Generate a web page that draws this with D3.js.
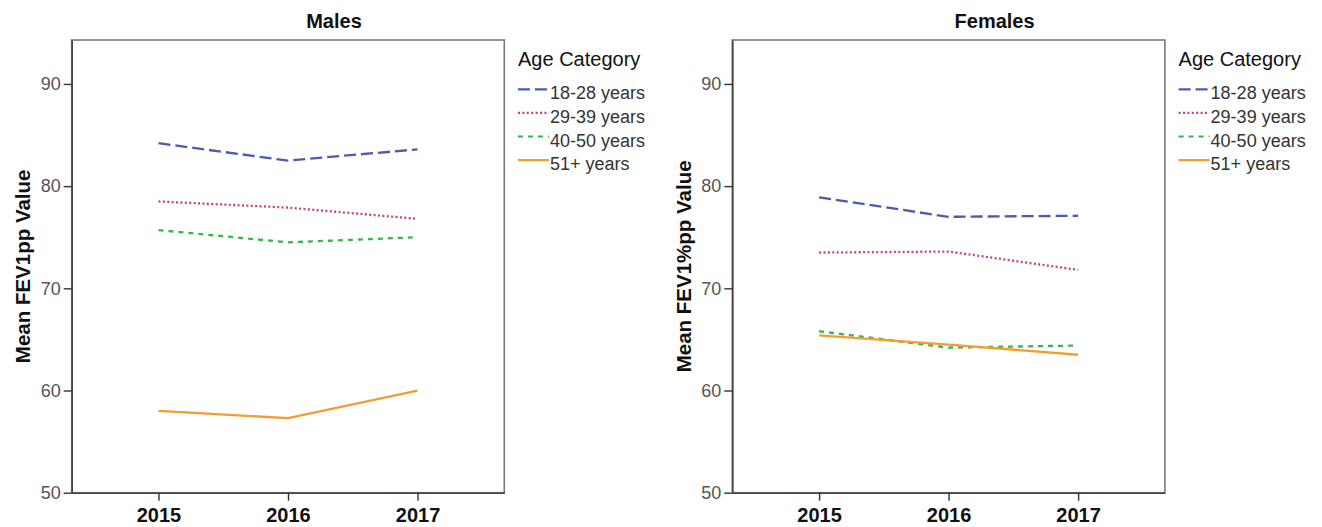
<!DOCTYPE html>
<html>
<head>
<meta charset="utf-8">
<script src="https://cdn.jsdelivr.net/npm/d3@7"></script>
<style>
  html, body { margin: 0; padding: 0; background: #fff; }
  svg { display: block; font-family: "Liberation Sans", Arial, sans-serif; }
</style>
</head>
<body>
<svg id="chart" width="1322" height="527"></svg>
<script>
/* FEV1 by age category, males vs females, 2015-2017. */

const years = ["2015", "2016", "2017"];
const ageGroups = ["18-28 years", "29-39 years", "40-50 years", "51+ years"];

// one row per age group, one value per year
const malesValues = [
  [84.2, 82.5, 83.6],
  [78.5, 77.9, 76.8],
  [75.7, 74.5, 75.0],
  [58.0, 57.3, 60.0],
];
const femalesValues = [
  [78.9, 77.0, 77.1],
  [73.5, 73.6, 71.8],
  [65.8, 64.2, 64.4],
  [65.4, 64.5, 63.5],
];

const yTicks = [50, 60, 70, 80, 90];
const yDomain = [50, 94.3];
const panelTitles = ["Males", "Females"];
const yTitles = ["Mean FEV1pp Value", "Mean FEV1%pp Value"];
const legendTitle = "Age Category";

// line styles per age group
const lineColors = ["#4a5bb0", "#c8407e", "#36b44e", "#f49d2c"];
const lineDash = ["12,5", "2,2.4", "5,5", null];

const svg = d3.select("#chart");
const panelW = 660.6;
const m = { left: 71.7, right: 504.3, top: 40, bottom: 492.7 };

const x = d3.scalePoint().domain(years).range([m.left, m.right]).padding(0.67);
const y = d3.scaleLinear().domain(yDomain).range([m.bottom, m.top]);

const line = d3.line()
  .x((d, i) => x(years[i]))
  .y((d) => y(d));

function drawPanel(idx, values) {
  const g = svg.append("g").attr("transform", `translate(${idx * panelW},0)`);

  // frame
  g.append("rect")
    .attr("x", m.left).attr("y", m.top)
    .attr("width", m.right - m.left).attr("height", m.bottom - m.top)
    .attr("fill", "none")
    .attr("stroke", "#7a7a7a")
    .attr("stroke-width", 1.6);

  // y axis
  const ya = g.append("g")
    .attr("transform", `translate(${m.left},0)`)
    .call(d3.axisLeft(y).tickValues(yTicks).tickSize(8).tickPadding(3).tickSizeOuter(0));
  ya.select(".domain").attr("stroke", "#444").attr("stroke-width", 1.6);
  ya.selectAll(".tick line").attr("stroke", "#333").attr("stroke-width", 1.4);
  ya.selectAll(".tick text")
    .attr("fill", "#555")
    .style("font-size", "18px")
    .style("font-family", "'Liberation Sans', Arial, sans-serif");

  // x axis
  const xa = g.append("g")
    .attr("transform", `translate(0,${m.bottom})`)
    .call(d3.axisBottom(x).tickSize(8).tickSizeOuter(0));
  xa.select(".domain").attr("stroke", "#444").attr("stroke-width", 1.6);
  xa.selectAll(".tick line").attr("stroke", "#333").attr("stroke-width", 1.4);
  xa.selectAll(".tick text")
    .attr("y", 29).attr("dy", 0)
    .attr("fill", "#111")
    .style("font-size", "20px")
    .style("font-weight", "bold")
    .style("font-family", "'Liberation Sans', Arial, sans-serif");

  // series
  g.selectAll("path.series")
    .data(values)
    .join("path")
    .attr("class", "series")
    .attr("d", line)
    .attr("fill", "none")
    .attr("stroke", (d, i) => lineColors[i])
    .attr("stroke-width", 2.3)
    .attr("stroke-dasharray", (d, i) => lineDash[i]);

  // titles
  g.append("text")
    .attr("x", 334).attr("y", 28)
    .attr("text-anchor", "middle")
    .style("font-size", "20px").style("font-weight", "bold")
    .attr("fill", "#111")
    .text(panelTitles[idx]);

  g.append("text")
    .attr("transform", `translate(30,${(m.top + m.bottom) / 2}) rotate(-90)`)
    .attr("text-anchor", "middle")
    .style("font-size", "20.5px").style("font-weight", "bold")
    .attr("fill", "#111")
    .text(yTitles[idx]);

  // legend
  const lg = g.append("g").attr("transform", "translate(518,0)");
  lg.append("text")
    .attr("x", 0).attr("y", 66)
    .style("font-size", "20px")
    .attr("fill", "#111")
    .text(legendTitle);

  const rows = lg.selectAll("g.item")
    .data(ageGroups)
    .join("g")
    .attr("class", "item")
    .attr("transform", (d, i) => `translate(0,${99.3 + i * 23.6})`);
  rows.append("line")
    .attr("x1", 0).attr("x2", 31)
    .attr("y1", -10).attr("y2", -10)
    .attr("stroke", (d, i) => lineColors[i])
    .attr("stroke-width", 2.2)
    .attr("stroke-dasharray", (d, i) => lineDash[i]);
  rows.append("text")
    .attr("x", 32).attr("y", 0)
    .style("font-size", "18px")
    .attr("fill", "#333")
    .text((d) => d);
}

drawPanel(0, malesValues);
drawPanel(1, femalesValues);
</script>
</body>
</html>
